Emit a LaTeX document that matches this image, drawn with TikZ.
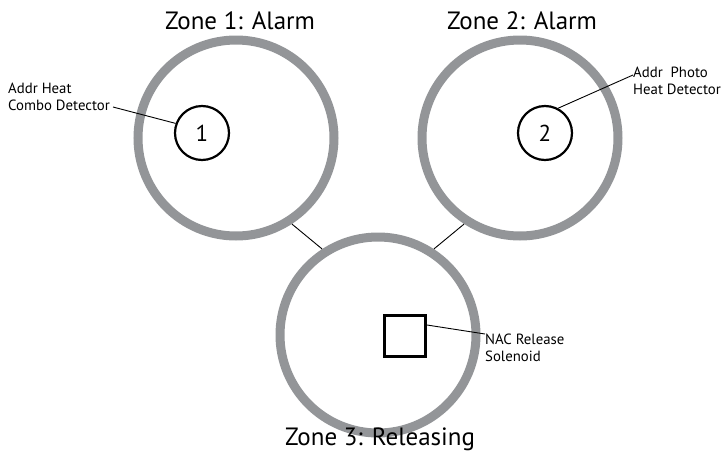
\documentclass[tikz,border=0pt]{standalone}
\usepackage{fontspec}
\setmainfont{PT Sans}
\definecolor{zonegray}{HTML}{939598}
\begin{document}
\begin{tikzpicture}[x=1pt,y=-1pt,
  zone/.style={circle,draw=zonegray,line width=9pt,minimum size=196pt,inner sep=0pt},
  det/.style={circle,draw=black,line width=2.2pt,minimum size=54pt,inner sep=0pt,font=\fontsize{23}{25}\selectfont},
  sol/.style={rectangle,draw=black,line width=2.4pt,minimum size=41pt,inner sep=0pt},
  title/.style={font=\fontsize{25}{28}\selectfont,inner sep=0pt},
  lbl/.style={font=\fontsize{14.8}{17}\selectfont,align=left,inner sep=0pt},
  lead/.style={draw=black,line width=0.9pt}]
\useasboundingbox (0,0) rectangle (724,453);
\node[zone] (z1) at (236,138) {};
\node[zone] (z2) at (520,138) {};
\node[zone] (z3) at (378,335) {};
\node[det] (d1) at (202,133) {1};
\node[det] (d2) at (545,133) {2};
\node[sol] (s) at (405,336) {};
\node[title] (t1) at (240,21) {Zone 1: Alarm};
\node[title] (t2) at (522,21) {Zone 2: Alarm};
\node[title] (t3) at (380,439) {Zone 3: Releasing};
\node[lbl,anchor=north west] (l1) at (8,83) {Addr Heat\\Combo Detector};
\node[lbl,anchor=north west] (l2) at (633,67) {Addr\ \ Photo\\Heat Detector};
\node[lbl,anchor=north west] (l3) at (485,334) {NAC Release\\Solenoid};
\coordinate (e1) at (113,107);
\coordinate (e2) at (633,75);
\coordinate (e3) at (485,334);
\coordinate (s1) at (427,325);
\draw[lead] (e1) -- (d1.160);
\draw[lead] (e2) -- (d2.62);
\draw[lead] (e3) -- (s1);
\draw[lead] (z1.-57) -- (z3.123);
\draw[lead] (z2.-123) -- (z3.57);
\end{tikzpicture}
\end{document}
